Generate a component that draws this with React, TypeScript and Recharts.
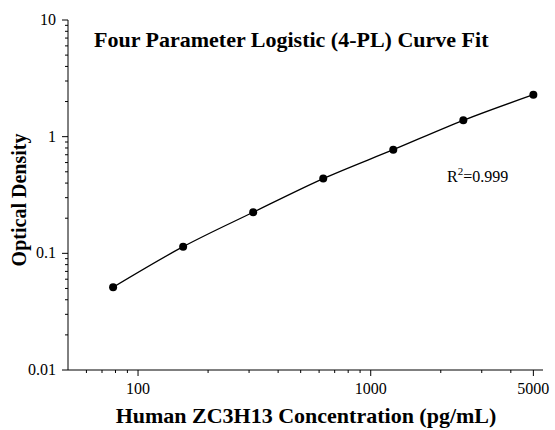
import React from 'react';
import { LineChart, Line, XAxis, YAxis } from 'recharts';

const concentrations = [78.125, 156.25, 312.5, 625, 1250, 2500, 5000];
const opticalDensity = [0.0512, 0.114, 0.225, 0.437, 0.773, 1.38, 2.29];

const xMajorTicks = [100, 1000, 5000];
const xMinorTicks = [60, 70, 80, 90, 200, 300, 400, 500, 600, 700, 800, 900, 2000, 3000, 4000];
const yMajorTicks = [0.01, 0.1, 1, 10];
const yMinorTicks = [
  0.02, 0.03, 0.04, 0.05, 0.06, 0.07, 0.08, 0.09,
  0.2, 0.3, 0.4, 0.5, 0.6, 0.7, 0.8, 0.9,
  2, 3, 4, 5, 6, 7, 8, 9,
];

const data = concentrations.map((c, i) => ({ conc: c, od: opticalDensity[i] }));

const FONT = '"Liberation Serif", "Times New Roman", serif';

const XTick = (props: any) => {
  const { x, y, payload } = props;
  const major = xMajorTicks.includes(payload.value);
  return (
    <g>
      <line x1={x} x2={x} y1={y} y2={y + (major ? 6 : 3)} stroke="#000" strokeWidth={1} />
      {major && (
        <text x={x} y={y + 24} textAnchor="middle" fontFamily={FONT} fontSize={16} fill="#000">
          {payload.value}
        </text>
      )}
    </g>
  );
};

const YTick = (props: any) => {
  const { x, y, payload } = props;
  const major = yMajorTicks.includes(payload.value);
  return (
    <g>
      <line x1={x} x2={x - (major ? 6 : 3)} y1={y} y2={y} stroke="#000" strokeWidth={1} />
      {major && (
        <text x={x - 12} y={y + 5} textAnchor="end" fontFamily={FONT} fontSize={16} fill="#000">
          {payload.value}
        </text>
      )}
    </g>
  );
};

export default function App() {
  return (
    <div style={{ position: 'absolute', left: 0, top: 0, width: 555, height: 430, background: '#fff' }}>
      <LineChart
        width={555}
        height={430}
        data={data}
        margin={{ top: 20, right: 12, bottom: 0, left: 0 }}
      >
        <XAxis
          dataKey="conc"
          type="number"
          scale="log"
          domain={[50, 5500]}
          allowDataOverflow
          ticks={[...xMinorTicks, ...xMajorTicks].sort((a, b) => a - b)}
          interval={0}
          tick={<XTick />}
          tickLine={false}
          tickSize={0}
          tickMargin={0}
          height={60}
          axisLine={{ stroke: '#000', strokeWidth: 1 }}
        />
        <YAxis
          type="number"
          scale="log"
          domain={[0.01, 10]}
          allowDataOverflow
          ticks={[...yMinorTicks, ...yMajorTicks].sort((a, b) => a - b)}
          interval={0}
          tick={<YTick />}
          tickLine={false}
          tickSize={0}
          tickMargin={0}
          width={68}
          axisLine={{ stroke: '#000', strokeWidth: 1 }}
        />
        <Line
          dataKey="od"
          type="monotone"
          stroke="#000"
          strokeWidth={1.3}
          dot={{ r: 4, fill: '#000', stroke: '#000', strokeWidth: 0 }}
          activeDot={false}
          isAnimationActive={false}
        />
      </LineChart>
      <svg
        width={555}
        height={430}
        style={{ position: 'absolute', left: 0, top: 0, pointerEvents: 'none' }}
      >
        <text x={94} y={47} fontFamily={FONT} fontWeight="bold" fontSize={22} fill="#000">
          Four Parameter Logistic (4-PL) Curve Fit
        </text>
        <text x={447} y={182} fontFamily={FONT} fontSize={16} fill="#000">
          R<tspan dy={-7} fontSize={11}>2</tspan>
          <tspan dy={7}>=0.999</tspan>
        </text>
        <text x={306} y={423} textAnchor="middle" fontFamily={FONT} fontWeight="bold" fontSize={22} fill="#000">
          Human ZC3H13 Concentration (pg/mL)
        </text>
        <text
          x={0}
          y={0}
          transform="translate(26,200) rotate(-90)"
          textAnchor="middle"
          fontFamily={FONT}
          fontWeight="bold"
          fontSize={20}
          fill="#000"
        >
          Optical Density
        </text>
      </svg>
    </div>
  );
}
